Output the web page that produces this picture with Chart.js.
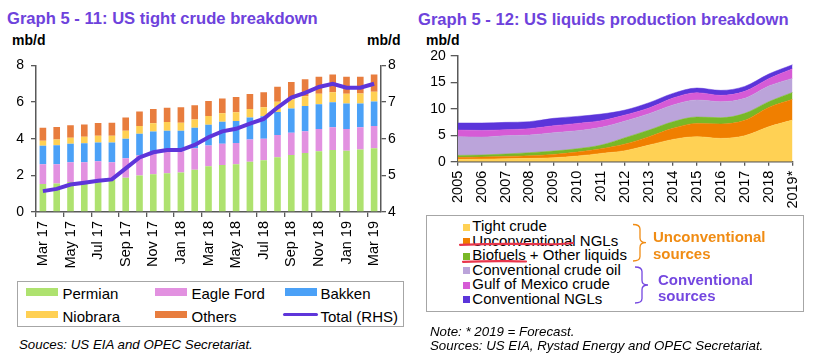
<!DOCTYPE html>
<html><head><meta charset="utf-8">
<script src="https://cdn.jsdelivr.net/npm/chart.js@4.4.1/dist/chart.umd.min.js"></script>
<style>
body{margin:0;width:815px;height:357px;background:#fff;position:relative;overflow:hidden;font-family:"Liberation Sans",Arial,sans-serif;color:#000;}
.a{position:absolute;white-space:nowrap;}
.title{font-weight:bold;font-size:16.6px;line-height:17px;color:#6E42DC;}
.unit{font-weight:bold;font-size:14px;line-height:14px;}
.lg{font-size:15px;line-height:15px;}
.note{font-style:italic;font-size:13.3px;line-height:13.3px;}
.box{position:absolute;border:1px solid #A6A6A6;box-sizing:border-box;}
.sw{position:absolute;}
.rl{font-size:15px;line-height:14.5px;}
canvas{position:absolute;}
</style>
</head><body>
<div class="a title" style="left:7px;top:10px;">Graph 5 - 11: US tight crude breakdown</div>
<div class="a unit" style="left:12px;top:33px;">mb/d</div>
<div class="a unit" style="left:367px;top:33px;">mb/d</div>

<div class="a title" style="left:418px;top:10.5px;">Graph 5 - 12: US liquids production breakdown</div>
<div class="a unit" style="left:426px;top:33px;">mb/d</div>

<canvas id="c1" width="410" height="230" style="left:0;top:50px;"></canvas>
<canvas id="c2" width="405" height="175" style="left:410px;top:40px;"></canvas>

<!-- left legend -->
<div class="box" style="left:17px;top:281px;width:387px;height:46px;"></div>
<div id="lg1"></div>
<div class="a note" style="left:19px;top:338px;">Souces: US EIA and OPEC Secretariat.</div>

<!-- right legend -->
<div class="box" style="left:426px;top:215px;width:378px;height:97px;"></div>
<div id="lg2"></div>
<svg class="a" style="left:0;top:0;" width="815" height="357">
  <path d="M633 224.5 Q640 224.5 640 229 L640 238 Q640 242.7 646 242.7 Q640 242.7 640 247.5 L640 256.5 Q640 261 633 261" fill="none" stroke="#F08C14" stroke-width="1.3"/>
  <path d="M635 267 Q642 267 642 271.5 L642 280.5 Q642 285 648 285 Q642 285 642 289.5 L642 298.5 Q642 303 635 303" fill="none" stroke="#7447E0" stroke-width="1.3"/>
  <path d="M460 244.8 Q500 243.5 540 244.2 Q560 244.5 573 243" fill="none" stroke="#E8354B" stroke-width="2.2" stroke-linecap="round"/>
  <path d="M463 261.8 Q495 260.5 526 261.5" fill="none" stroke="#E8354B" stroke-width="2.2" stroke-linecap="round"/>
</svg>
<div class="a" style="left:653px;top:229px;font-weight:bold;font-size:15px;line-height:15px;color:#F08C14;">Unconventional</div>
<div class="a" style="left:653px;top:245.5px;font-weight:bold;font-size:15px;line-height:15px;color:#F08C14;">sources</div>
<div class="a" style="left:658px;top:271.5px;font-weight:bold;font-size:15px;line-height:15px;color:#7447E0;">Conventional</div>
<div class="a" style="left:658px;top:288px;font-weight:bold;font-size:15px;line-height:15px;color:#7447E0;">sources</div>
<div class="a note" style="left:430px;top:324.5px;">Note: * 2019 = Forecast.</div>
<div class="a note" style="left:430px;top:339px;">Sources: US EIA, Rystad Energy and OPEC Secretariat.</div>

<script>
// ---------- Graph 5-11 data (mb/d) ----------
const months = ['Mar 17','Apr 17','May 17','Jun 17','Jul 17','Aug 17','Sep 17','Oct 17','Nov 17','Dec 17','Jan 18','Feb 18','Mar 18','Apr 18','May 18','Jun 18','Jul 18','Aug 18','Sep 18','Oct 18','Nov 18','Dec 18','Jan 19','Feb 19','Mar 19'];
const permian   = [1.53,1.56,1.64,1.67,1.76,1.76,1.87,1.99,2.06,2.12,2.15,2.31,2.49,2.57,2.60,2.74,2.83,2.99,3.11,3.22,3.31,3.38,3.34,3.41,3.48];
const eagleFord = [1.07,1.04,1.08,1.05,1.01,0.96,1.06,1.09,1.12,1.19,1.16,1.17,1.14,1.15,1.17,1.22,1.17,1.21,1.21,1.19,1.22,1.24,1.19,1.21,1.21];
const bakken    = [1.01,1.04,1.00,1.03,1.02,1.07,1.07,1.19,1.21,1.13,1.13,1.12,1.13,1.20,1.19,1.20,1.23,1.26,1.33,1.37,1.35,1.37,1.39,1.30,1.34];
const niobrara  = [0.28,0.32,0.33,0.35,0.37,0.37,0.43,0.42,0.45,0.47,0.43,0.45,0.48,0.47,0.48,0.46,0.48,0.55,0.50,0.53,0.57,0.55,0.53,0.55,0.53];
const others    = [0.71,0.68,0.68,0.68,0.69,0.71,0.73,0.80,0.78,0.78,0.84,0.78,0.82,0.80,0.84,0.82,0.83,0.83,0.94,0.93,0.93,0.96,0.93,0.91,0.94];
const totalRHS  = [4.57,4.63,4.75,4.80,4.85,4.89,5.19,5.49,5.63,5.69,5.69,5.83,6.04,6.20,6.27,6.41,6.54,6.85,7.12,7.25,7.41,7.50,7.39,7.39,7.50];
const leftTicks = [0,2,4,6,8];
const rightTicks = [4,5,6,7,8];

// ---------- Graph 5-12 data (mb/d) ----------
const years = ['2005','2006','2007','2008','2009','2010','2011','2012','2013','2014','2015','2016','2017','2018','2019*'];
const tightCrude     = [0.44,0.50,0.57,0.63,0.75,1.07,1.57,2.08,3.14,4.21,4.72,4.40,4.91,6.60,7.86];
const unconvNGLs     = [0.38,0.38,0.43,0.50,0.63,0.75,0.88,1.25,1.58,2.08,2.51,2.71,2.89,3.65,3.90];
const biofuels       = [0.37,0.38,0.45,0.57,0.63,0.63,0.69,1.20,1.25,1.26,1.20,1.19,1.32,1.07,1.32];
const convCrude      = [3.53,3.39,3.46,3.33,3.46,3.40,3.34,3.14,3.09,3.14,3.21,3.02,2.83,2.96,2.64];
const gulfOfMexico   = [1.25,1.26,1.13,1.20,1.32,1.38,1.26,1.14,1.07,1.32,1.38,1.20,1.32,1.38,1.83];
const convNGLs       = [1.33,1.39,1.38,1.32,1.39,1.32,1.25,0.94,1.00,0.88,0.88,0.94,0.94,0.88,0.75];
const areaTicks = [0,5,10,15,20];

const FONT = '"Liberation Sans", Arial, sans-serif';
Chart.defaults.font.family = FONT;
Chart.defaults.color = '#000';
const AX = '#595959';

const c1 = {permian:'#AEE26F', eagle:'#E291E0', bakken:'#4BA1F7', niob:'#FFD053', others:'#E87D3E', total:'#5E35DA'};
const c2 = {tight:'#FFD154', ungl:'#F07F00', bio:'#78B826', conv:'#BBA4DA', gom:'#D65BD6', cngl:'#5B35DA'};

function bar(label, data, color){
  return {type:'bar', label, data, backgroundColor:color, borderWidth:0, stack:'s', order:1,
          yAxisID:'y', barPercentage:0.48, categoryPercentage:1};
}

new Chart(document.getElementById('c1'), {
  data:{
    labels: months,
    datasets:[
      {type:'line', label:'Total (RHS)', data: totalRHS, yAxisID:'y1', borderColor:c1.total, borderWidth:4,
       pointRadius:0, tension:0, order:0, fill:false},
      bar('Permian', permian, c1.permian),
      bar('Eagle Ford', eagleFord, c1.eagle),
      bar('Bakken', bakken, c1.bakken),
      bar('Niobrara', niobrara, c1.niob),
      bar('Others', others, c1.others)
    ]
  },
  options:{
    responsive:false, animation:false, devicePixelRatio:1,
    layout:{padding:{top:12,left:0,right:0,bottom:0}},
    plugins:{legend:{display:false}, tooltip:{enabled:false}},
    scales:{
      x:{stacked:true, offset:true,
         afterFit:(s)=>{s.height=68;},
         grid:{display:true, drawOnChartArea:false, drawTicks:true, tickLength:5, offset:true,
               color:(ctx)=> (ctx.index!==undefined && ctx.index%2===0) ? AX : 'rgba(0,0,0,0)', lineWidth:1.3},
         border:{display:true, color:AX, width:1.5},
         ticks:{autoSkip:false, minRotation:90, maxRotation:90, padding:4, font:{size:14.5},
                callback:function(v,i){ return i%2===0 ? this.getLabelForValue(v) : ''; }}
      },
      y:{stacked:true, min:0, max:8, position:'left',
         afterFit:(s)=>{s.width=36;},
         afterBuildTicks:(s)=>{s.ticks = leftTicks.map(v=>({value:v}));},
         grid:{drawOnChartArea:false, drawTicks:true, tickLength:5, color:AX, lineWidth:1.3},
         border:{display:true, color:AX, width:1.5},
         ticks:{padding:7, font:{size:14}}
      },
      y1:{min:4, max:8, position:'right',
         afterFit:(s)=>{s.width=29;},
         afterBuildTicks:(s)=>{s.ticks = rightTicks.map(v=>({value:v}));},
         grid:{drawOnChartArea:false, drawTicks:true, tickLength:5, color:AX, lineWidth:1.3},
         border:{display:true, color:AX, width:1.5},
         ticks:{padding:2, font:{size:14}}
      }
    }
  }
});

function area(label, data, color, fill){
  return {label, data, backgroundColor:color, borderColor:color, borderWidth:0.5, pointRadius:0,
          fill, cubicInterpolationMode:'monotone'};
}

new Chart(document.getElementById('c2'), {
  type:'line',
  data:{
    labels: years,
    datasets:[
      area('Tight crude', tightCrude, c2.tight, 'origin'),
      area('Unconventional NGLs', unconvNGLs, c2.ungl, '-1'),
      area('Biofuels + Other liquids', biofuels, c2.bio, '-1'),
      area('Conventional crude oil', convCrude, c2.conv, '-1'),
      area('Gulf of Mexico crude', gulfOfMexico, c2.gom, '-1'),
      area('Conventional NGLs', convNGLs, c2.cngl, '-1')
    ]
  },
  options:{
    responsive:false, animation:false, devicePixelRatio:1,
    layout:{padding:{top:15.7,left:0,right:17.7,bottom:0}},
    plugins:{legend:{display:false}, tooltip:{enabled:false}},
    scales:{
      x:{offset:false,
         afterFit:(s)=>{s.height=53.3;},
         grid:{display:true, drawOnChartArea:false, drawTicks:true, tickLength:4, color:AX, lineWidth:1.3},
         border:{display:true, color:AX, width:1.5},
         ticks:{autoSkip:false, minRotation:90, maxRotation:90, padding:5, font:{size:14.5}}
      },
      y:{stacked:true, min:0, max:20,
         afterFit:(s)=>{s.width=47.7;},
         afterBuildTicks:(s)=>{s.ticks = areaTicks.map(v=>({value:v}));},
         grid:{drawOnChartArea:false, drawTicks:true, tickLength:7, color:AX, lineWidth:1.3},
         border:{display:true, color:AX, width:1.5},
         ticks:{padding:5, font:{size:14}}
      }
    }
  }
});

// ---------- HTML legends ----------
const lg1 = [
  {t:'Permian', c:c1.permian, sx:26, tx:62.5, row:0},
  {t:'Eagle Ford', c:c1.eagle, sx:155, tx:191.5, row:0},
  {t:'Bakken', c:c1.bakken, sx:285, tx:320.5, row:0},
  {t:'Niobrara', c:c1.niob, sx:26, tx:62.5, row:1},
  {t:'Others', c:c1.others, sx:155, tx:191.5, row:1},
  {t:'Total (RHS)', c:c1.total, sx:283, tx:320.5, row:1, line:true}
];
let h = '';
lg1.forEach(e=>{
  const ty = 286.3 + e.row*22.4;
  if(e.line){
    h += `<div class="sw" style="left:${e.sx}px;top:${ty+4.2}px;width:35px;height:3.5px;border-radius:2px;background:${e.c}"></div>`;
  } else {
    h += `<div class="sw" style="left:${e.sx}px;top:${ty+2}px;width:32px;height:7.5px;background:${e.c}"></div>`;
  }
  h += `<div class="a lg" style="left:${e.tx}px;top:${ty}px;">${e.t}</div>`;
});
document.getElementById('lg1').innerHTML = h;

const lg2 = [
  ['Tight crude', c2.tight], ['Unconventional NGLs', c2.ungl], ['Biofuels + Other liquids', c2.bio],
  ['Conventional crude oil', c2.conv], ['Gulf of Mexico crude', c2.gom], ['Conventional NGLs', c2.cngl]
];
h = '';
lg2.forEach((e,i)=>{
  const base = 231.7 + i*14.5;
  h += `<div class="sw" style="left:462.5px;top:${base-8.2}px;width:7px;height:7px;background:${e[1]}"></div>`;
  h += `<div class="a rl" style="left:472.3px;top:${base-12.45}px;">${e[0]}</div>`;
});
document.getElementById('lg2').innerHTML = h;
</script>
</body></html>
